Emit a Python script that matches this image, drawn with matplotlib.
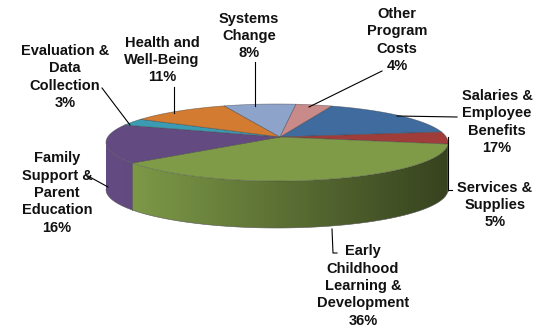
import numpy as np
import matplotlib
matplotlib.use("Agg")
import matplotlib.pyplot as plt
from matplotlib.patches import Polygon
from matplotlib.colors import to_rgb

# Budget shares, clockwise from the first slice
categories = [
    "Salaries &\nEmployee\nBenefits",
    "Services &\nSupplies",
    "Early\nChildhood\nLearning &\nDevelopment",
    "Family\nSupport &\nParent\nEducation",
    "Evaluation &\nData\nCollection",
    "Health and\nWell-Being",
    "Systems\nChange",
    "Other\nProgram\nCosts",
]
shares = [17, 5, 36, 16, 3, 11, 8, 4]
colors = ["#3f6b9e", "#a03d3b", "#7f9b48", "#634b82",
          "#3a9bb3", "#d27b31", "#8ea3c9", "#c98b8a"]

# Layout (pixel space of the figure)
W, H = 544, 328
cx, cy = 277, 142.5        # centre of the top ellipse
ax_x, ax_y = 280, 137      # projected pie centre (apex of the slices)
rx, ry = 171, 38.5         # radii of the top ellipse
depth = 47                 # thickness of the disc
start_deg = 22             # first slice starts this far clockwise from 12 o'clock
skew = 9                   # perspective skew of rim angles (degrees)

# label block centres and leader paths
label_pos = [(497, 122), (495, 205), (363, 286), (57, 193),
             (65, 77), (162, 60), (249, 36), (397, 40)]
leaders = [
    [(397, 116), (457, 117)],
    [(448, 137), (448, 190), (452, 190)],
    [(332, 229), (333, 253), (337, 253)],
    [(88, 176), (108, 187)],
    [(102, 88), (130, 125)],
    [(174, 87), (174, 113)],
    [(255, 62), (255, 106)],
    [(382, 71), (309, 107)],
]

fig = plt.figure(figsize=(W / 100, H / 100), dpi=100)
ax = fig.add_axes([0, 0, 1, 1])
ax.set_axis_off()


def to_rim_angle(theta):
    """Pie angle (deg, clockwise from top) -> parametric angle on the ellipse."""
    th = np.asarray(theta, dtype=float) + start_deg
    return th - skew * np.sin(np.radians(th))


def rim(t, drop=0.0):
    t = np.radians(t)
    return cx + rx * np.sin(t), cy - ry * np.cos(t) + drop


def shade(x):
    s = np.clip((x - cx) / rx, -1, 1)
    return np.clip(0.73 - 0.30 * s, 0, 1)


pie_bounds = 360 * np.concatenate([[0], np.cumsum(shares)]) / sum(shares)
bounds = to_rim_angle(pie_bounds)

# side walls (front half of the disc only)
for i, col in enumerate(colors):
    t0, t1 = bounds[i], bounds[i + 1]
    for k in (-360, 0, 360):
        a, b = max(t0 + k, 90), min(t1 + k, 270)
        if a >= b:
            continue
        ts = np.linspace(a, b, 80)
        xt, yt = rim(ts)
        xb, yb = rim(ts[::-1], depth)
        verts = np.column_stack([np.concatenate([xt, xb]), np.concatenate([yt, yb])])
        poly = Polygon(verts, closed=True, facecolor="none", edgecolor="none")
        ax.add_patch(poly)
        x0, x1 = verts[:, 0].min(), verts[:, 0].max()
        y0, y1 = verts[:, 1].min(), verts[:, 1].max()
        xs = np.linspace(x0, x1, 200)
        base = np.array(to_rgb(col))
        img = np.clip(base[None, :] * shade(xs)[:, None], 0, 1)[None, :, :]
        im = ax.imshow(img, extent=[x0, x1, y1, y0], aspect="auto",
                       interpolation="bilinear", zorder=1)
        im.set_clip_path(poly)
        ax.plot(xb, yb, color="#555555", lw=0.4, zorder=2)
        for tb in (a, b):
            if 90 < tb < 270:
                xx, yy = rim(tb)
                ax.plot([xx, xx], [yy, yy + depth], color="#444444", lw=0.4,
                        alpha=0.6, zorder=2)

# top faces
for i, col in enumerate(colors):
    ts = np.linspace(bounds[i], bounds[i + 1], 120)
    xt, yt = rim(ts)
    verts = np.column_stack([np.concatenate([[ax_x], xt]),
                             np.concatenate([[ax_y], yt])])
    ax.add_patch(Polygon(verts, closed=True, facecolor=col,
                         edgecolor=(0.25, 0.25, 0.25, 0.55), lw=0.5, zorder=3))

# leader lines
for path in leaders:
    p = np.array(path)
    ax.plot(p[:, 0], p[:, 1], color="black", lw=0.8, zorder=4)

# labels
for name, val, (lx, ly) in zip(categories, shares, label_pos):
    ax.text(lx, ly, f"{name}\n{val}%", ha="center", va="center",
            fontsize=10.5, fontweight="bold", family="Liberation Sans",
            linespacing=1.3, color="#111111", zorder=5)

ax.set_xlim(0, W)
ax.set_ylim(H, 0)
fig.savefig("out.png", dpi=100, facecolor="white")
